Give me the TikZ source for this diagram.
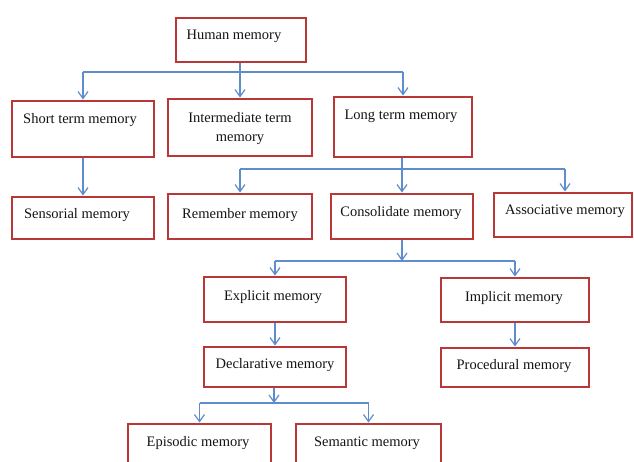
\documentclass[tikz,border=0pt]{standalone}
\usepackage{fontspec}
\setmainfont{Liberation Serif}
\usetikzlibrary{arrows.meta}
\definecolor{boxred}{RGB}{185,55,55}
\definecolor{lineblue}{RGB}{95,140,205}
\definecolor{txtcol}{RGB}{20,20,20}
\newcommand\memb[5]{\node[box, minimum width={(#4-#2)*1pt}, minimum height={(#5-#3)*1pt}] (#1) at ({(#2+#4)/2},{(#3+#5)/2}) {};}
\begin{document}
\begin{tikzpicture}[x=1pt,y=-1pt,
  box/.style={draw=boxred, line width=2.9pt, fill=white, inner sep=0pt},
  lbl/.style={text=txtcol, font=\fontsize{14.5}{19}\selectfont, inner sep=0pt, align=center, yshift=-1pt},
  conn/.style={draw=lineblue, line width=1.2pt},
  arr/.style={conn, -{Straight Barb[length=7pt,width=10pt]}}]
\useasboundingbox (0,0) rectangle (634,462);
\clip (0,0) rectangle (634,462);
\fill[white] (0,0) rectangle (634,462);
% boxes
\memb{hm}{176}{18}{306}{62}
\memb{stm}{12}{101}{154}{157}
\memb{itm}{168}{99}{312}{156}
\memb{ltm}{334}{97}{472}{157}
\memb{sen}{12}{197}{154}{239}
\memb{rem}{168}{194}{312}{239}
\memb{con}{331}{194}{473}{239}
\memb{ass}{494}{193}{632}{237}
\memb{exp}{204}{277}{346}{322}
\memb{imp}{441}{278}{589}{322}
\memb{dec}{204}{347}{346}{387}
\memb{pro}{441}{348}{589}{387}
\memb{epi}{128}{424}{271}{475}
\memb{sem}{296}{424}{441}{475}
% labels
\node[lbl] (hmt) at (234,35) {Human memory};
\node[lbl] (stmt) at (80,119) {Short term memory};
\node[lbl] (itmt) at (240,128) {Intermediate term\\memory};
\node[lbl] (ltmt) at (401,115) {Long term memory};
\node[lbl] (sent) at (77,214) {Sensorial memory};
\node[lbl] (remt) at (240,214) {Remember memory};
\node[lbl] (cont) at (401,212) {Consolidate memory};
\node[lbl] (asst) at (565,210) {Associative memory};
\node[lbl] (expt) at (273,296) {Explicit memory};
\node[lbl] (impt) at (514,297) {Implicit memory};
\node[lbl] (dect) at (275,364) {Declarative memory};
\node[lbl] (prot) at (514,365) {Procedural memory};
\node[lbl] (epit) at (198,442) {Episodic memory};
\node[lbl] (semt) at (367,442) {Semantic memory};
% junctions
\coordinate (j1) at (240,72);
\coordinate (j2) at (402,169);
\coordinate (j3) at (402,261);
\coordinate (j4) at (274,403);
% connectors
\draw[conn] (j1 |- hm.south) -- (j1);
\draw[conn] (stm.north |- j1) -- (ltm.north |- j1);
\draw[arr] (stm.north |- j1) -- (stm.north);
\draw[arr] (j1) -- (j1 |- itm.north);
\draw[arr] (ltm.north |- j1) -- (ltm.north);
\draw[arr] (stm.south) -- (sen.north);
\draw[conn] (j2 |- ltm.south) -- (j2);
\draw[conn] (rem.north |- j2) -- ([xshift=2pt]ass.north |- j2);
\draw[arr] (rem.north |- j2) -- (rem.north);
\draw[arr] (j2) -- (j2 |- con.north);
\draw[arr] ([xshift=2pt]ass.north |- j2) -- ([xshift=2pt]ass.north);
\draw[arr] (j3 |- con.south) -- (j3);
\draw[conn] (exp.north |- j3) -- (imp.north |- j3);
\draw[arr] (exp.north |- j3) -- (exp.north);
\draw[arr] (imp.north |- j3) -- (imp.north);
\draw[arr] (exp.south) -- (dec.north);
\draw[arr] (imp.south) -- (pro.north);
\draw[arr] (j4 |- dec.south) -- (j4);
\draw[conn] (epi.north |- j4) -- (sem.north |- j4);
\draw[arr] (epi.north |- j4) -- (epi.north);
\draw[arr] (sem.north |- j4) -- (sem.north);
\end{tikzpicture}
\end{document}
